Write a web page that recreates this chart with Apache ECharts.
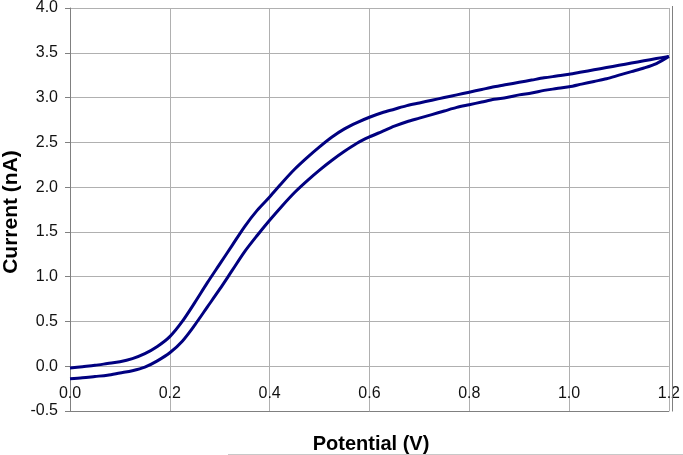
<!DOCTYPE html>
<html>
<head>
<meta charset="utf-8">
<script src="https://cdn.jsdelivr.net/npm/echarts@6/dist/echarts.min.js"></script>
<style>
html,body{margin:0;padding:0;background:#fff;}
#chart{width:683px;height:455px;}
</style>
</head>
<body>
<div id="chart"></div>
<script>
// Potential (V), shared sampling grid for both sweeps
const potential = [0.000,0.025,0.050,0.075,0.100,0.125,0.150,0.175,0.200,0.225,0.250,0.275,0.300,0.325,0.350,0.375,0.400,0.425,0.450,0.475,0.500,0.525,0.550,0.575,0.600,0.625,0.650,0.675,0.700,0.725,0.750,0.775,0.800,0.825,0.850,0.875,0.900,0.925,0.950,0.975,1.000,1.025,1.050,1.075,1.100,1.125,1.150,1.175,1.200];
// Forward sweep (lower trace), current in nA
const forwardCurrent = [-0.14,-0.13,-0.115,-0.10,-0.075,-0.05,-0.01,0.06,0.15,0.28,0.46,0.66,0.86,1.07,1.28,1.46,1.63,1.79,1.94,2.07,2.19,2.30,2.40,2.49,2.56,2.62,2.68,2.73,2.77,2.81,2.85,2.89,2.92,2.95,2.98,3.00,3.03,3.05,3.08,3.10,3.12,3.15,3.18,3.21,3.25,3.29,3.33,3.38,3.46];
// Reverse sweep (upper trace), current in nA
const reverseCurrent = [-0.02,-0.005,0.01,0.03,0.05,0.085,0.14,0.22,0.33,0.50,0.71,0.93,1.14,1.35,1.56,1.74,1.89,2.05,2.20,2.33,2.45,2.56,2.65,2.72,2.78,2.83,2.87,2.91,2.94,2.97,3.00,3.03,3.06,3.09,3.12,3.145,3.17,3.195,3.22,3.24,3.26,3.285,3.31,3.335,3.36,3.385,3.41,3.435,3.46];
const xTickLabels = ['0.0','0.2','0.4','0.6','0.8','1.0','1.2'];
const yTickLabels = ['-0.5','0.0','0.5','1.0','1.5','2.0','2.5','3.0','3.5','4.0'];
const xTitle = 'Potential (V)';
const yTitle = 'Current (nA)';

const FONT = "'Liberation Sans', Arial, sans-serif";
const chart = echarts.init(document.getElementById('chart'), null, {renderer: 'canvas'});
const fwd = potential.map((p, i) => [p, forwardCurrent[i]]);
const rev = potential.map((p, i) => [p, reverseCurrent[i]]).reverse();

chart.setOption({
  animation: false,
  backgroundColor: '#ffffff',
  grid: {left: 70, right: 11, top: 6, bottom: 44, containLabel: false},
  xAxis: {
    type: 'value', min: 0, max: 1.2, interval: 0.2, position: 'bottom',
    axisLine: {onZero: false, lineStyle: {color: '#808080', width: 1}},
    axisTick: {show: false},
    axisLabel: {
      inside: true,
      color: '#111', fontFamily: FONT, fontSize: 16, margin: 9,
      formatter: v => xTickLabels[Math.round(v / 0.2)]
    },
    splitLine: {show: true, lineStyle: {color: '#b0b0b0', width: 1}}
  },
  yAxis: {
    type: 'value', min: -0.5, max: 4, interval: 0.5,
    axisLine: {show: true, lineStyle: {color: '#808080', width: 1}},
    axisTick: {show: true, length: 5, inside: false, lineStyle: {color: '#808080'}},
    axisLabel: {
      color: '#111', fontFamily: FONT, fontSize: 16, margin: 12,
      formatter: v => yTickLabels[Math.round((v + 0.5) / 0.5)]
    },
    splitLine: {show: true, lineStyle: {color: '#b0b0b0', width: 1}}
  },
  series: [
    {type: 'line', data: fwd, showSymbol: false, smooth: 0.3,
     lineStyle: {color: '#000080', width: 3}},
    {type: 'line', data: rev, showSymbol: false, smooth: 0.3,
     lineStyle: {color: '#000080', width: 3}}
  ],
  graphic: [
    {type: 'line', shape: {x1: 672.5, y1: 6, x2: 672.5, y2: 411.5}, style: {stroke: '#808080', lineWidth: 1}, z: 10},
    {type: 'line', shape: {x1: 228, y1: 454.5, x2: 683, y2: 454.5}, style: {stroke: '#c8c8c8', lineWidth: 1}},
    {type: 'text', x: 371, y: 444,
     style: {text: xTitle, font: "bold 20px " + FONT, fill: '#000', textAlign: 'center', textVerticalAlign: 'middle'}},
    {type: 'text', x: 11, y: 212, rotation: Math.PI / 2,
     style: {text: yTitle, font: "bold 21px " + FONT, fill: '#000', textAlign: 'center', textVerticalAlign: 'middle'}}
  ]
});
</script>
</body>
</html>
